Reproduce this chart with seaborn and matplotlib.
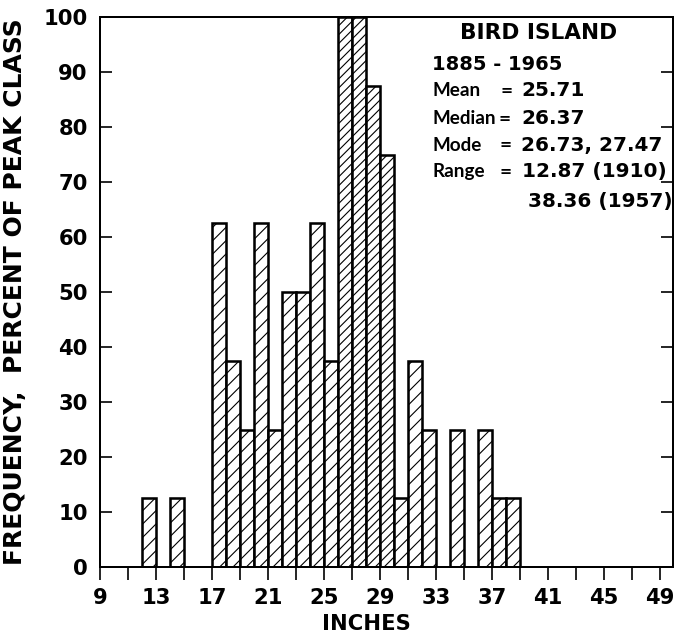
import matplotlib
matplotlib.use("Agg")
import matplotlib.pyplot as plt
import seaborn as sns

# Annual precipitation classes (1-inch wide) and frequency as percent of the peak class
class_start = [12, 14, 17, 18, 19, 20, 21, 22, 23, 24, 25, 26, 27, 28, 29, 30, 31, 32, 34, 36, 37, 38]
percent = [12.5, 12.5, 62.5, 37.5, 25, 62.5, 25, 50, 50, 62.5, 37.5, 100, 100, 87.5, 75,
           12.5, 37.5, 25, 25, 25, 12.5, 12.5]

x_tick_labels = ["9", "13", "17", "21", "25", "29", "33", "37", "41", "45", "49"]
y_tick_labels = ["0", "10", "20", "30", "40", "50", "60", "70", "80", "90", "100"]

station = "BIRD ISLAND"
period = "1885 - 1965"
stat_names = ["Mean", "Median", "Mode", "Range"]
stat_values = ["25.71", "26.37", "26.73, 27.47", "12.87 (1910)"]
range_high = "38.36 (1957)"

sns.set_style("white")
plt.rcParams["font.family"] = ["DejaVu Sans"]
plt.rcParams["text.color"] = "black"
plt.rcParams["axes.labelcolor"] = "black"
plt.rcParams["xtick.color"] = "black"
plt.rcParams["ytick.color"] = "black"
plt.rcParams["hatch.linewidth"] = 1.0
plt.rcParams["hatch.color"] = "black"

DPI = 80
W, H = 678, 639
fig = plt.figure(figsize=(W / DPI, H / DPI), dpi=DPI)
ax = fig.add_axes([100 / W, (H - 567) / H, 573 / W, 550 / H])

centers = [s + 0.5 for s in class_start]
sns.histplot(x=centers, weights=percent, binwidth=1, binrange=(9, 50),
             color="white", edgecolor="black", linewidth=2.3, alpha=1, ax=ax)

# the tallest classes were shaded with a finer hatch
fine_hatch_span = (26, 30)
for p in ax.patches:
    if p.get_height() <= 0:
        p.set_visible(False)
        continue
    left = p.get_x()
    fine = fine_hatch_span[0] - 0.01 <= left < fine_hatch_span[1] - 0.01
    p.set_hatch("///" if fine else "//")
    p.set_facecolor("white")
    p.set_edgecolor("black")

ax.set_xlim(9, 49.93)
ax.set_ylim(0, 100)

# Axis ticks: a tick every 2 inches, labelled every 4
tick_pos = list(range(9, 50, 2))
ax.set_xticks(tick_pos)
ax.set_xticklabels([str(v) if str(v) in x_tick_labels else "" for v in tick_pos])
ax.set_yticks([int(v) for v in y_tick_labels])
ax.set_yticklabels(y_tick_labels)

ax.tick_params(axis="x", direction="out", length=12, width=1.5, pad=7,
               labelsize=19, bottom=True, top=False)
ax.tick_params(axis="y", direction="in", length=11, width=1.5, pad=11,
               labelsize=19, left=True, right=True)
for lbl in ax.get_xticklabels() + ax.get_yticklabels():
    lbl.set_fontweight("bold")

for side in ["left", "right", "top", "bottom"]:
    ax.spines[side].set_visible(True)
    ax.spines[side].set_linewidth(1.8)
    ax.spines[side].set_color("black")

ax.set_xlabel("INCHES", fontsize=19, fontweight="bold")
ax.xaxis.set_label_coords((366 - 100) / 573, -0.085)
ax.set_ylabel("FREQUENCY,  PERCENT OF PEAK CLASS", fontsize=22.5, fontweight="bold")
ax.yaxis.set_label_coords(-0.128, 0.5)


def put(text, x, y_top, size, ha="left", family="DejaVu Sans"):
    fig.text(x / W, (H - y_top) / H, text, fontsize=size, ha=ha, va="center",
             fontweight="bold", color="black", family=family)


put(station, 539, 33, 19.5, ha="center")
put(period, 432, 65, 17.5)
rows_y = [91, 119, 145, 172]
eq_x = [507, 505, 506, 506]
val_x = [521, 521, 521, 522]
for name, val, y, ex, vx in zip(stat_names, stat_values, rows_y, eq_x, val_x):
    put(name, 433, y, 17, family="Lato")
    put("=", ex, y, 13, ha="center")
    put(val, vx, y, 18)
put(range_high, 528, 201, 18)

fig.savefig("out.png", dpi=DPI)
